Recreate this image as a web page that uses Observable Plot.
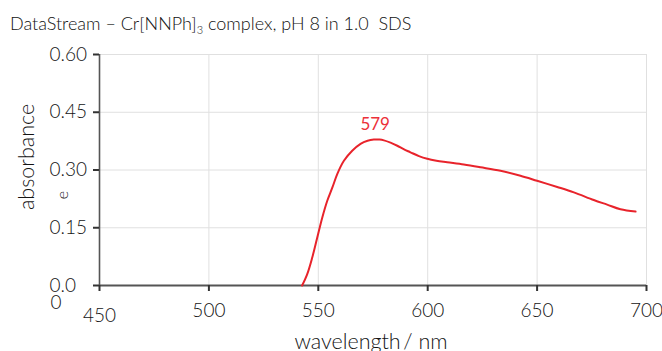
<!DOCTYPE html>
<html><head><meta charset="utf-8">
<script src="https://cdn.jsdelivr.net/npm/d3@7"></script>
<script src="https://cdn.jsdelivr.net/npm/@observablehq/plot@0.6"></script>
<style>
body{margin:0;background:#fff;font-family:Lato,sans-serif;}
#title{height:40px;box-sizing:border-box;padding:14px 0 0 10px;font-size:18px;font-weight:300;color:#111;white-space:nowrap;line-height:18px}
#title sub{font-size:11px;vertical-align:-4px;line-height:0}
</style></head><body>
<div id="title">DataStream – Cr[NNPh]<sub>3</sub> complex, pH 8 in 1.0&nbsp; SDS</div>
<div id="chart"></div>
<script>
const wavelength = [542.6, 544.9, 547.2, 549.5, 551.8, 554.1, 556.4, 558.7, 561.7, 565.5, 569.3, 572.5, 575.4, 578, 580.0, 583, 586.1, 589, 592.1, 596, 599.8, 604, 608.9, 616.5, 624.1, 633.3, 642.4, 650, 659.2, 666.8, 675.9, 682, 688.1, 695];
const absorbance = [0, 0.029, 0.072, 0.124, 0.176, 0.220, 0.254, 0.290, 0.324, 0.350, 0.368, 0.376, 0.379, 0.379, 0.377, 0.371, 0.363, 0.354, 0.346, 0.336, 0.329, 0.324, 0.320, 0.314, 0.307, 0.298, 0.285, 0.272, 0.256, 0.242, 0.222, 0.210, 0.198, 0.192];
const xTicks = [500, 550, 600, 650, 700];
const xFirstTick = [450];
const yTicks = [0, 0.15, 0.30, 0.45, 0.60];
const yTickLabels = ["0.0", "0.15", "0.30", "0.45", "0.60"];
const peak = [{w: 576, a: 0.379, label: "579"}];
const xLabel = "wavelength\u2009/ nm";
const yLabel = "absorbance";
const yLabelTail = "e";
const zeroTail = "0";

const data = wavelength.map((w, i) => ({w, a: absorbance[i]}));
const grid = "#e0e0e0", ink = "#141414";

const plot = Plot.plot({
  width: 662, height: 311,
  marginTop: 14, marginBottom: 66, marginLeft: 99, marginRight: 16,
  style: {fontFamily: "Lato, sans-serif", fontWeight: 300, color: ink, background: "#fff", overflow: "visible"},
  x: {domain: [450, 700]},
  y: {domain: [0, 0.6]},
  marks: [
    Plot.gridX(xTicks, {stroke: grid, strokeOpacity: 1, strokeWidth: 1}),
    Plot.gridY(yTicks.slice(1), {stroke: grid, strokeOpacity: 1, strokeWidth: 1}),
    Plot.ruleY([0], {stroke: "#555", strokeWidth: 2}),
    Plot.ruleX([450], {stroke: "#555", strokeWidth: 1.6}),
    Plot.axisX(xTicks, {tickSize: 6, tickPadding: 12, fontSize: 19, label: null, strokeWidth: 2, stroke: "#333"}),
    Plot.axisX(xFirstTick, {tickSize: 6, tickFormat: () => "", label: null, strokeWidth: 2, stroke: "#333"}),
    Plot.text(xFirstTick, {x: d => d, text: d => String(d), frameAnchor: "bottom", textAnchor: "middle", lineAnchor: "top", dy: 23, fontSize: 19, fill: ink}),
    Plot.axisY(yTicks, {tickSize: 6, tickPadding: 44, textAnchor: "start", fontSize: 19, label: null, strokeWidth: 2, stroke: "#333",
      tickFormat: d => yTickLabels[yTicks.indexOf(d)]}),
    Plot.text([zeroTail], {x: 450, y: 0, text: d => d, textAnchor: "start", lineAnchor: "bottom", dx: -49, dy: 23, fontSize: 19, fill: ink}),
    Plot.text([yLabel], {frameAnchor: "left", text: d => d, rotate: -90, textAnchor: "middle", lineAnchor: "bottom", dx: -66, dy: -13, fontSize: 21.5, fill: ink}),
    Plot.text([yLabelTail], {frameAnchor: "left", text: d => d, rotate: -90, textAnchor: "middle", lineAnchor: "bottom", dx: -32, dy: 25, fontSize: 16, fill: ink}),
    Plot.text([xLabel], {frameAnchor: "bottom", text: d => d, textAnchor: "middle", lineAnchor: "bottom", dx: -2, dy: 63, fontSize: 21.5, fill: ink}),
    Plot.line(data, {x: "w", y: "a", stroke: "#e8232b", strokeWidth: 2, curve: "catmull-rom"}),
    Plot.text(peak, {x: "w", y: "a", text: "label", dy: -15, fontSize: 17, fontWeight: 400, fill: "#ec3039"})
  ]
});
document.getElementById("chart").appendChild(plot);
</script>
</body></html>
